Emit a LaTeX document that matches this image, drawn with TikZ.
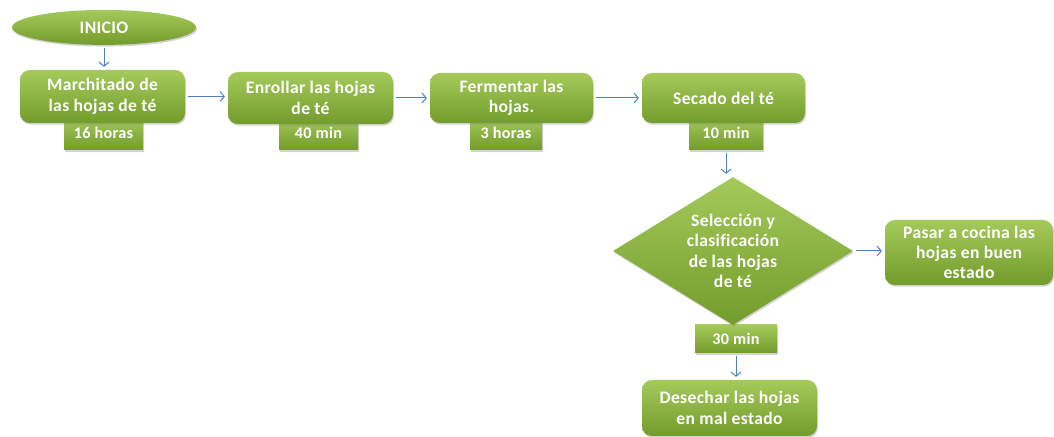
\documentclass[tikz,border=0pt]{standalone}
\usepackage{fontspec}
\setmainfont[Ligatures=NoCommon,LetterSpace=2]{Carlito}
\usepackage{tikz}
\usetikzlibrary{shapes.geometric,shadows,arrows.meta}

\definecolor{leafhi}{HTML}{A5CA5B}
\definecolor{leaflo}{HTML}{729C2C}
\definecolor{flow}{HTML}{4F81BD}

\tikzset{
  leaf/.style={top color=leafhi,bottom color=leaflo,draw=none,text=white,
    font=\bfseries\fontsize{12.5}{14.5}\selectfont,align=center,inner sep=0pt,
    drop shadow={opacity=0.35,shadow xshift=0.6pt,shadow yshift=-1.2pt}},
  stepbox/.style={leaf,rectangle,rounded corners=7pt},
  timebox/.style={leaf,rectangle,font=\bfseries\fontsize{11.5}{13}\selectfont},
  flowarrow/.style={draw=flow,line width=0.7pt,shorten <=2pt,shorten >=2pt,
    -{Straight Barb[length=3pt,width=7pt]}}
}

\begin{document}
\begin{tikzpicture}
\useasboundingbox (0,0) rectangle (26.35,10.925);

\node [leaf,ellipse,minimum width=4.6cm,minimum height=0.875cm] (ini) at(2.6,10.24){INICIO};

% tiempos (detras de las cajas)
\node [timebox,minimum width=1.975cm,minimum height=0.85cm] (mt) at(2.5875,7.6){16 horas};
\node [timebox,minimum width=1.975cm,minimum height=0.85cm] (et) at(7.9625,7.6){40 min};
\node [timebox,minimum width=1.8cm,minimum height=0.85cm] (ft) at(12.65,7.6){3 horas};
\node [timebox,minimum width=1.85cm,minimum height=0.85cm] (st) at(18.15,7.6){10 min};
\node [timebox,minimum width=2.05cm,minimum height=0.7cm] (selt) at(18.4,2.45){30 min};

\node [stepbox,minimum width=4.125cm,minimum height=1.325cm] (m) at(2.5625,8.5125){Marchitado de\\las hojas de té};
\node [stepbox,minimum width=4.125cm,minimum height=1.3cm] (e) at(7.7625,8.475){Enrollar las hojas\\de té};
\node [stepbox,minimum width=4.075cm,minimum height=1.25cm] (f) at(12.7875,8.475){Fermentar las\\hojas.};
\node [stepbox,minimum width=4.075cm,minimum height=1.25cm] (s) at(18.0875,8.475){Secado del té};

\node [leaf,diamond,aspect=1.6,minimum width=6cm,minimum height=3.7cm] (sel) at(18.325,4.65){Selección y\\clasificación\\de las hojas\\de té};
\node [stepbox,minimum width=4.2cm,minimum height=1.625cm] (pc) at(24.225,4.6125){Pasar a cocina las\\hojas en buen\\estado};
\node [stepbox,minimum width=4.375cm,minimum height=1.4cm] (dm) at(18.2375,0.725){Desechar las hojas\\en mal estado};

\draw[flowarrow](ini.south) -- (ini.south |- m.north);
\draw[flowarrow](m.east) -- (e.west |- m.east);
\draw[flowarrow](e.east) -- (f.west |- e.east);
\draw[flowarrow](f.east) -- (s.west |- f.east);
\draw[flowarrow](st.south) -- (st.south |- sel.north);
\draw[flowarrow](sel.east) -- (pc.west |- sel.east);
\draw[flowarrow](selt.south) -- (selt.south |- dm.north);
\end{tikzpicture}
\end{document}
